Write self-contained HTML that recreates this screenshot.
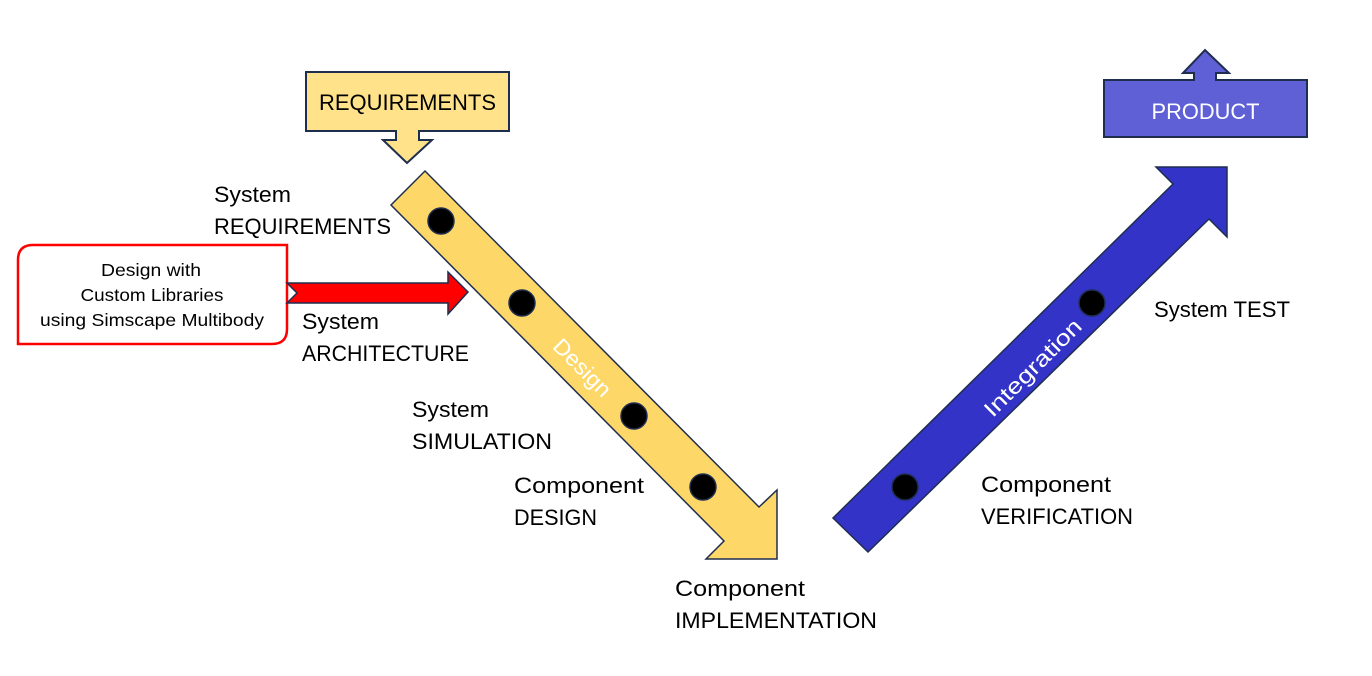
<!DOCTYPE html>
<html><head><meta charset="utf-8"><style>html,body{margin:0;padding:0;background:#fff}svg{display:block}text{font-family:"Liberation Sans",sans-serif}</style></head>
<body>
<svg width="1372" height="676" viewBox="0 0 1372 676" xmlns="http://www.w3.org/2000/svg">
<rect x="306" y="72" width="203" height="59" fill="#ffe28a" stroke="#1f2d4f" stroke-width="2"/>
<polygon points="396,131 396,140 383,140 407,163 432,140 419,140 419,131" fill="#ffe28a" stroke="#1f2d4f" stroke-width="2"/>
<line x1="397" y1="131" x2="418" y2="131" stroke="#ffe28a" stroke-width="3"/>
<text x="407.5" y="110" font-size="22" text-anchor="middle" textLength="177" lengthAdjust="spacingAndGlyphs" fill="#000">REQUIREMENTS</text>

<polygon points="425,171 759,507 777,490 777,559 706,559 724,541 391,205" fill="#fdd868" stroke="#1f2d4f" stroke-width="1.5"/>
<g fill="#000" stroke="#1f2d4f" stroke-width="1.5">
<circle cx="441" cy="221" r="13"/><circle cx="522" cy="303" r="13"/><circle cx="634" cy="416" r="13"/><circle cx="703" cy="487" r="13"/>
</g>
<text x="0" y="0" font-size="22" fill="#fff" text-anchor="middle" textLength="72" lengthAdjust="spacingAndGlyphs" transform="translate(577,373) rotate(45)">Design</text>

<polygon points="833,518 1173,184 1156,167 1227,167 1227,237 1209,219 868,552" fill="#3333c8" stroke="#1f2d4f" stroke-width="1.5"/>
<g fill="#000" stroke="#1f2d4f" stroke-width="1.5">
<circle cx="905" cy="487" r="13"/><circle cx="1092" cy="303" r="13"/>
</g>
<text x="0" y="0" font-size="22" fill="#fff" text-anchor="middle" textLength="128" lengthAdjust="spacingAndGlyphs" transform="translate(1038,373) rotate(-45)">Integration</text>

<rect x="1104" y="80" width="203" height="57" fill="#5f5fd6" stroke="#1f2d4f" stroke-width="2"/>
<polygon points="1194,80 1194,73 1183,73 1205,50 1229,73 1216,73 1216,80" fill="#5f5fd6" stroke="#1f2d4f" stroke-width="2"/>
<line x1="1195" y1="80" x2="1215" y2="80" stroke="#5f5fd6" stroke-width="3"/>
<text x="1205.5" y="119" font-size="22" text-anchor="middle" textLength="108" lengthAdjust="spacingAndGlyphs" fill="#fff">PRODUCT</text>

<path d="M33,245 H287 V329 Q287,344 272,344 H18 V260 Q18,245 33,245 Z" fill="#fff" stroke="#ff0000" stroke-width="2.5"/>
<polygon points="287,283 448,283 448,272 468,292 448,314 448,303 287,303 297,293" fill="#ff0000" stroke="#1f2d4f" stroke-width="1.5"/>
<g font-size="17.5" text-anchor="middle" fill="#000">
<text x="151" y="276" textLength="100" lengthAdjust="spacingAndGlyphs">Design with</text>
<text x="152" y="301" textLength="143" lengthAdjust="spacingAndGlyphs">Custom Libraries</text>
<text x="152" y="326" textLength="224" lengthAdjust="spacingAndGlyphs">using Simscape Multibody</text>
</g>

<g font-size="22" fill="#000">
<text x="214" y="202" textLength="77" lengthAdjust="spacingAndGlyphs">System</text>
<text x="214" y="234" textLength="177" lengthAdjust="spacingAndGlyphs">REQUIREMENTS</text>
<text x="302" y="329" textLength="77" lengthAdjust="spacingAndGlyphs">System</text>
<text x="302" y="361" textLength="167" lengthAdjust="spacingAndGlyphs">ARCHITECTURE</text>
<text x="412" y="417" textLength="77" lengthAdjust="spacingAndGlyphs">System</text>
<text x="412" y="449" textLength="140" lengthAdjust="spacingAndGlyphs">SIMULATION</text>
<text x="514" y="493" textLength="130" lengthAdjust="spacingAndGlyphs">Component</text>
<text x="514" y="525" textLength="83" lengthAdjust="spacingAndGlyphs">DESIGN</text>
<text x="675" y="596" textLength="130" lengthAdjust="spacingAndGlyphs">Component</text>
<text x="675" y="628" textLength="202" lengthAdjust="spacingAndGlyphs">IMPLEMENTATION</text>
<text x="981" y="492" textLength="130" lengthAdjust="spacingAndGlyphs">Component</text>
<text x="981" y="524" textLength="152" lengthAdjust="spacingAndGlyphs">VERIFICATION</text>
<text x="1154" y="317" textLength="136" lengthAdjust="spacingAndGlyphs">System TEST</text>
</g>
</svg>
</body></html>
